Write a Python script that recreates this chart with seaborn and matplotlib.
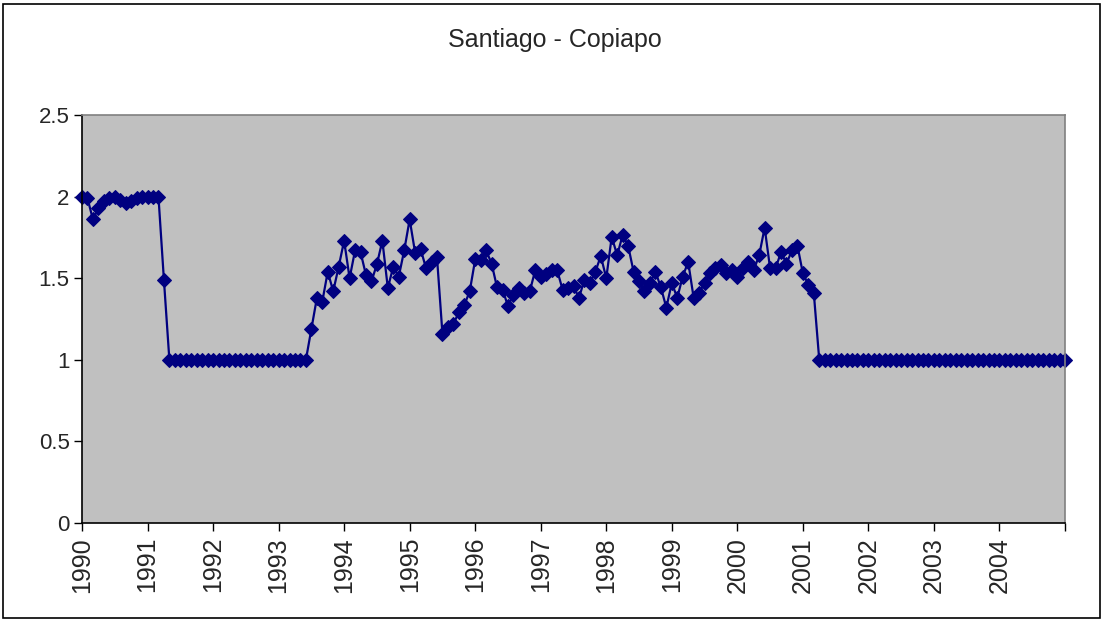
import numpy as np
import pandas as pd
import matplotlib
matplotlib.use('Agg')
import matplotlib.pyplot as plt
import seaborn as sns

# monthly values, Jan 1990 .. Jan 2005
early_vals = [2.0, 1.99, 1.86, 1.93, 1.97, 1.99, 2.0, 1.98, 1.96, 1.97,
              1.99, 2.0, 2.0, 2.0, 2.0, 1.49]
flat_low_1 = [1.0] * 26
mid_vals = [1.19, 1.377, 1.356, 1.54, 1.42, 1.57, 1.73,
            1.50, 1.67, 1.66, 1.52, 1.48, 1.585, 1.73, 1.44, 1.57, 1.51, 1.67,
            1.86, 1.656, 1.68, 1.56, 1.60, 1.63,
            1.16, 1.20, 1.22, 1.29, 1.335, 1.42,
            1.615, 1.61, 1.67, 1.59, 1.444, 1.43,
            1.33, 1.40, 1.44, 1.41, 1.42, 1.55, 1.505, 1.525, 1.55, 1.55,
            1.43, 1.44, 1.45, 1.38, 1.49, 1.47, 1.54, 1.636,
            1.50, 1.754, 1.64, 1.765, 1.70, 1.54, 1.48, 1.42, 1.47, 1.54,
            1.444, 1.32, 1.47, 1.38, 1.51, 1.60, 1.38, 1.41,
            1.47, 1.53, 1.56, 1.58, 1.53, 1.55, 1.51, 1.56, 1.60, 1.55,
            1.64, 1.81, 1.56, 1.56, 1.66, 1.59, 1.67, 1.70, 1.53, 1.46, 1.41]
flat_low_2 = [1.0] * 46

values = early_vals + flat_low_1 + mid_vals + flat_low_2
years = [str(y) for y in range(1990, 2005)]

df = pd.DataFrame({'t': 1990 + np.arange(len(values)) / 12.0, 'v': values})

sns.set_style('white')
plt.rcParams['font.family'] = ['Liberation Sans', 'DejaVu Sans']

fig = plt.figure(figsize=(11.03, 6.21), dpi=100)
ax = fig.add_axes([82 / 1103, 1 - 523 / 621, (1065 - 82) / 1103, (523 - 115) / 621])
ax.set_facecolor('#C0C0C0')

sns.lineplot(data=df, x='t', y='v', ax=ax, color='#000080', marker='D',
             markersize=7.5, markeredgecolor='#000080', linewidth=1.6, clip_on=False)

ax.set_xlim(1990, 2005)
ax.set_ylim(0, 2.5)
ax.set_xticks(range(1990, 2006))
ax.set_xticklabels(years + [''], rotation=90, fontsize=18)
ax.set_yticks([0, 0.5, 1, 1.5, 2, 2.5])
ax.set_yticklabels(['0', '0.5', '1', '1.5', '2', '2.5'], fontsize=16)
ax.tick_params(axis='both', direction='out', length=6, width=1, color='black', bottom=True, left=True)
ax.tick_params(axis='y', pad=3)
ax.tick_params(axis='x', pad=4)
ax.set_xlabel('')
ax.set_ylabel('')

for side in ['left', 'bottom']:
    ax.spines[side].set_color('black')
    ax.spines[side].set_linewidth(1.2)
for side in ['top', 'right']:
    ax.spines[side].set_color('#808080')
    ax.spines[side].set_linewidth(1.2)

fig.text(555 / 1103, 1 - 40 / 621, 'Santiago - Copiapo', ha='center', va='center', fontsize=18)

# outer chart border
fig.patches.append(plt.Rectangle((3 / 1103, 3 / 621), 1097 / 1103, 614 / 621,
                                 transform=fig.transFigure, fill=False,
                                 edgecolor='black', linewidth=1.2))

fig.savefig('out.png', dpi=100)
